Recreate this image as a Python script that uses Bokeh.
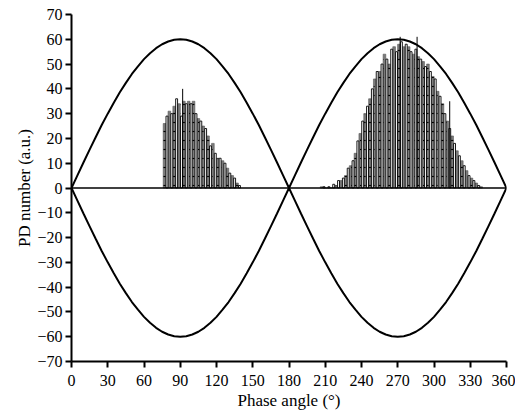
from bokeh.plotting import figure
from bokeh.models import Range1d, FixedTicker
from bokeh.embed import file_html
from bokeh.resources import INLINE

# ---- data ----
left_phase = list(range(77, 141, 2))  # bin centres (deg)
left_counts = [26, 29, 31, 30, 33, 36, 34, 29, 35, 34, 35, 34, 35, 30, 28, 27,
               25, 24, 21, 17, 18, 14, 12, 12, 11, 10, 8, 6, 5, 4, 2, 1]

right_phase = list(range(207, 341, 2))
right_counts = [0.5, 0.5, 0, 0.5, 0, 1.5, 1, 3, 3, 4,
                5, 8, 9, 11, 14, 19, 22, 27, 30, 33,
                36, 40, 44, 47, 47, 50, 54, 52, 50, 56,
                57, 55, 58, 59, 57, 58, 57, 55, 54, 56,
                53, 52, 51, 49, 50, 47, 45, 44, 39, 37,
                34, 30, 27, 24, 21, 18, 15, 13, 11, 9,
                7, 5, 4, 3, 2, 1, 0.5]

spike_phase = [92, 272, 286, 313]
spike_height = [40, 61, 61, 35]

env_phase = list(range(0, 365, 5))
env_amp = [0, 5.2, 10.4, 15.5, 20.5, 25.4, 30, 34.4, 38.6, 42.4, 46, 49.1, 52,
           54.4, 56.4, 58, 59.1, 59.8, 60, 59.8, 59.1, 58, 56.4, 54.4, 52, 49.1,
           46, 42.4, 38.6, 34.4, 30, 25.4, 20.5, 15.5, 10.4, 5.2, 0,
           5.2, 10.4, 15.5, 20.5, 25.4, 30, 34.4, 38.6, 42.4, 46, 49.1, 52,
           54.4, 56.4, 58, 59.1, 59.8, 60, 59.8, 59.1, 58, 56.4, 54.4, 52, 49.1,
           46, 42.4, 38.6, 34.4, 30, 25.4, 20.5, 15.5, 10.4, 5.2, 0]

x_ticks = list(range(0, 361, 30))
y_ticks = list(range(-70, 71, 10))

# ---- figure ----
p = figure(width=515, height=412, output_backend="svg", toolbar_location=None,
           x_range=Range1d(0, 360), y_range=Range1d(-70, 70),
           min_border_left=71, min_border_right=9, min_border_top=14,
           min_border_bottom=48)
p.outline_line_color = None
p.grid.visible = False
p.background_fill_color = "white"

phases = left_phase + right_phase
counts = left_counts + right_counts
gray_x = [x for i, x in enumerate(phases) if i % 2 == 0]
gray_top = [c for i, c in enumerate(counts) if i % 2 == 0]
white_x = [x for i, x in enumerate(phases) if i % 2 == 1]
white_top = [c for i, c in enumerate(counts) if i % 2 == 1]

p.vbar(x=gray_x, top=gray_top, bottom=0, width=2.2, fill_color="#7c7c7c",
       line_color="#555555", line_width=0.6,
       hatch_pattern="horizontal_dash", hatch_color="black", hatch_scale=9,
       hatch_weight=1.2)
p.vbar(x=white_x, top=white_top, bottom=0, width=1.6, fill_color="white",
       line_color="black", line_width=0.9)

p.segment(x0=spike_phase, y0=[0] * len(spike_phase), x1=spike_phase,
          y1=spike_height, line_color="black", line_width=1)

p.line(env_phase, env_amp, line_color="black", line_width=2)
p.line(env_phase, [-a for a in env_amp], line_color="black", line_width=2)
p.line([0, 360], [0, 0], line_color="black", line_width=1.5)

font = "Liberation Serif"
for ax in (p.xaxis[0], p.yaxis[0]):
    ax.axis_line_width = 2
    ax.major_tick_line_width = 2
    ax.major_tick_in = 0
    ax.major_tick_out = 6
    ax.minor_tick_line_color = None
    ax.major_label_text_font = font
    ax.major_label_text_font_size = "16px"
    ax.major_label_text_color = "black"
    ax.axis_label_text_font = font
    ax.axis_label_text_font_size = "17px"
    ax.axis_label_text_font_style = "normal"
    ax.axis_label_text_color = "black"

p.xaxis.ticker = FixedTicker(ticks=x_ticks)
p.yaxis.ticker = FixedTicker(ticks=y_ticks)
p.xaxis.major_label_standoff = 7
p.yaxis.major_label_standoff = 3
p.xaxis.axis_label = "Phase angle (°)"
p.yaxis.axis_label = "PD number (a.u.)"
p.xaxis.axis_label_standoff = 2
p.yaxis.axis_label_standoff = 0

open("out.html", "w").write(file_html(p, INLINE))
